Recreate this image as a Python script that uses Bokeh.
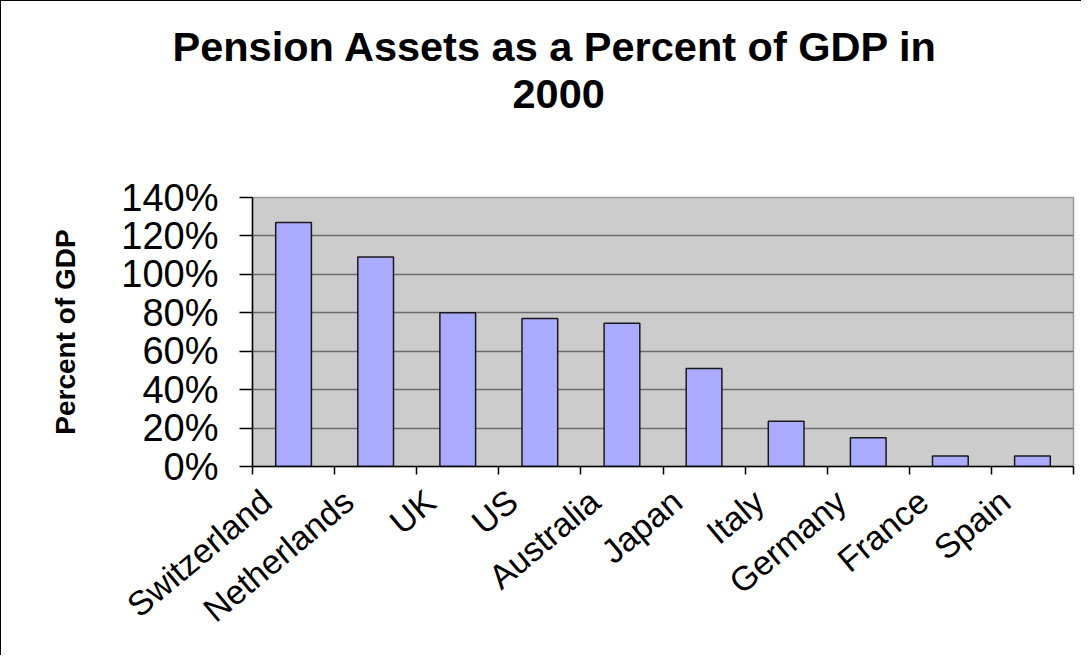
import numpy as np
from bokeh.plotting import figure
from bokeh.models import Range1d, FixedTicker, NumeralTickFormatter, Title
from bokeh.embed import file_html
from bokeh.resources import INLINE

# ---- data ----
countries = ["Switzerland", "Netherlands", "UK", "US", "Australia",
             "Japan", "Italy", "Germany", "France", "Spain"]
pension_pct = [127, 109, 80, 77, 74.5, 51, 23.5, 15, 5.5, 5.5]
y_tick_pct = [0, 20, 40, 60, 80, 100, 120, 140]
title_lines = ["Pension Assets as a Percent of GDP in", "2000"]

FONT = "Liberation Sans"

values = np.array(pension_pct) / 100.0
xs = np.arange(len(countries)) + 0.5
y_ticks = [v / 100.0 for v in y_tick_pct]

W, H = 1081, 655
p = figure(width=W, height=H,
           x_range=Range1d(0, len(countries)), y_range=Range1d(0, y_ticks[-1]),
           output_backend="svg", toolbar_location=None,
           min_border_left=251, min_border_right=9, min_border_bottom=H - 465,
           min_border_top=196)

# titles (p.title is the outer line, added title sits nearest the frame)
p.title.text = title_lines[0]
p.title.align = "left"
p.title.text_font = FONT
p.title.text_font_size = "41.5px"
p.title.text_font_style = "bold"
p.title.text_color = "black"
p.title.offset = -80
p.title.standoff = 16
t2 = Title(text=title_lines[1], align="left",
           text_font=FONT, text_font_size="41.5px", text_font_style="bold",
           text_color="black", offset=260, standoff=0, padding=(0, 0, 0, 90))
p.add_layout(t2, "above")

p.background_fill_color = "#CCCCCC"
p.border_fill_color = "white"
p.outline_line_color = "#999999"
p.outline_line_width = 1.5

p.vbar(x=xs, top=values, width=0.435, fill_color="#AAAAFF",
       line_color="#1a1a1a", line_width=1.5)

# grid
p.xgrid.visible = False
p.ygrid.ticker = FixedTicker(ticks=y_ticks)
p.ygrid.grid_line_color = "#6b6b6b"
p.ygrid.grid_line_width = 1.5

# x axis: labels slightly left of bar centres, ticks at category boundaries
label_pos = [float(x - 0.33) for x in xs]
xa = p.xaxis[0]
xa.ticker = FixedTicker(ticks=label_pos, minor_ticks=list(range(len(countries) + 1)))
xa.major_label_overrides = {lp: c for lp, c in zip(label_pos, countries)}
xa.major_tick_out = 0
xa.major_tick_in = 0
xa.minor_tick_out = 8
xa.minor_tick_in = 0
xa.minor_tick_line_color = "black"
xa.minor_tick_line_width = 1.5
xa.axis_line_color = "black"
xa.axis_line_width = 1.5
xa.major_label_orientation = np.deg2rad(40)
xa.major_label_text_font = FONT
xa.major_label_text_font_size = "34px"
xa.major_label_text_color = "black"
xa.major_label_standoff = 22

# y axis
ya = p.yaxis[0]
ya.ticker = FixedTicker(ticks=y_ticks)
ya.formatter = NumeralTickFormatter(format="0%")
ya.major_tick_out = 13
ya.major_tick_in = 0
ya.minor_tick_out = 0
ya.minor_tick_in = 0
ya.major_tick_line_color = "black"
ya.major_tick_line_width = 1.5
ya.axis_line_color = "black"
ya.axis_line_width = 1.5
ya.major_label_text_font = FONT
ya.major_label_text_font_size = "38px"
ya.major_label_text_color = "black"
ya.major_label_standoff = 21
ya.axis_label = "Percent of GDP"
ya.axis_label_text_font = FONT
ya.axis_label_text_font_size = "28px"
ya.axis_label_text_font_style = "bold"
ya.axis_label_text_color = "black"
ya.axis_label_standoff = 37

p.styles = {"border-top": "1.5px solid black", "border-left": "1.5px solid black"}

open("out.html", "w").write(file_html(p, INLINE))
